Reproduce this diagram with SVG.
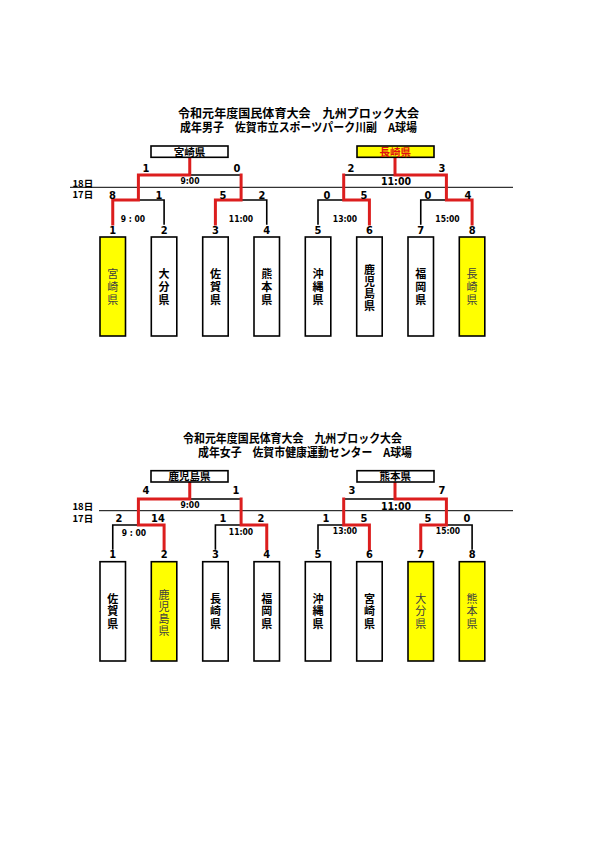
<svg xmlns="http://www.w3.org/2000/svg" width="595" height="842" viewBox="0 0 595 842">
<style>
.b{stroke:#000;stroke-width:1.6;fill:none;stroke-linecap:square}
.r{stroke:#dc1e1e;stroke-width:3;fill:none;stroke-linecap:square;stroke-linejoin:miter}
.d{stroke:#000;stroke-width:1;fill:none}
.box{fill:#fff;stroke:#000;stroke-width:1.6}
.y{fill:#ffff00}
.jp{font-family:"Noto Sans CJK JP","Noto Sans CJK SC",sans-serif;font-weight:bold;fill:#000}
.t{font-size:12px}
.bl{font-size:10.5px;text-anchor:middle}
.v{font-size:11px;writing-mode:vertical-rl;text-anchor:middle}
.v3{letter-spacing:2px}
.v3b{letter-spacing:1.5px}
.v4{letter-spacing:1px}
.tw{font-weight:normal;fill:#404040}
.n{font-family:"DejaVu Sans Condensed","Liberation Sans",sans-serif;font-weight:bold;font-size:11px;text-anchor:middle;fill:#000}
.s{font-family:"DejaVu Sans Condensed","Liberation Sans",sans-serif;font-weight:bold;font-size:8.5px;text-anchor:middle;fill:#000}
.s2{font-family:"DejaVu Sans Condensed","Liberation Sans",sans-serif;font-weight:bold;font-size:10.5px;text-anchor:middle;fill:#000}
.dt{font-family:"Noto Sans CJK JP",sans-serif;font-weight:bold;font-size:9.5px;fill:#000}
</style>
<rect width="595" height="842" fill="#fff"/>

<!-- Titles -->
<g id="title-men">
<text class="jp t" x="178" y="118" textLength="241" lengthAdjust="spacingAndGlyphs">令和元年度国民体育大会　九州ブロック大会</text>
<text class="jp t" x="180" y="131.5" textLength="237" lengthAdjust="spacingAndGlyphs">成年男子　佐賀市立スポーツパーク川副　A球場</text>
</g>
<g id="title-women">
<text class="jp t" x="183" y="443" textLength="219" lengthAdjust="spacingAndGlyphs">令和元年度国民体育大会　九州ブロック大会</text>
<text class="jp t" x="198" y="456.5" textLength="214" lengthAdjust="spacingAndGlyphs">成年女子　佐賀市健康運動センター　A球場</text>
</g>

<!-- Date lines -->
<g id="dates">
<line class="d" x1="70" y1="187.3" x2="513" y2="187.3"/>
<text class="dt" x="72.5" y="186.5">18日</text>
<text class="dt" x="72.5" y="197.5">17日</text>
<line class="d" x1="99" y1="510.7" x2="513" y2="510.7"/>
<text class="dt" x="72.5" y="510">18日</text>
<text class="dt" x="72.5" y="521.5">17日</text>
</g>

<!-- Connectors -->
<g id="connectors">
<path class="b" d="M138.4,200H164.1V224 M189.75,175H241.1 M241.1,200H266.75V224"/>
<path class="b" d="M318,224V200H343.7 M343.7,175H395 M420.75,224V200H446.4"/>
<path class="b" d="M112.75,549V525H138.4 M189.75,499H241.1 M215.4,549V525H241.1"/>
<path class="b" d="M318,549V525H343.7 M343.7,499H395 M446.4,525H472.1V549"/>
<path class="r" d="M112.75,224V200H138.4V175H189.75V157.3 M215.4,224V200H241.1V175"/>
<path class="r" d="M369.4,224V200H343.7V175 M395,157.3V175H446.4V200H472.1V224"/>
<path class="r" d="M164.1,549V525H138.4V499H189.75V482.3 M241.1,499V525H266.75V549"/>
<path class="r" d="M369.4,549V525H343.7V499 M395,482.3V499H446.4V525H420.75V549"/>
</g>

<!-- Champion boxes -->
<g id="champ-men-a"><rect class="box" x="151" y="146" width="77" height="11.3"/><text class="jp bl" x="189.5" y="155.6">宮崎県</text></g>
<g id="champ-men-b"><rect class="box y" x="357" y="146" width="77" height="11.3"/><text class="jp bl" x="395.3" y="155.6" style="fill:#e01010">長崎県</text></g>
<g id="champ-women-a"><rect class="box" x="151" y="470.7" width="77" height="11.3"/><text class="jp bl" x="189.5" y="480.3">鹿児島県</text></g>
<g id="champ-women-b"><rect class="box" x="357" y="470.7" width="77" height="11.3"/><text class="jp bl" x="395.3" y="480.3">熊本県</text></g>

<!-- Scores & times (men) -->
<g id="labels-men">
<text class="n" x="146" y="172">1</text><text class="n" x="237" y="172">0</text>
<text class="n" x="351" y="172">2</text><text class="n" x="442" y="172">3</text>
<text class="n" x="112.5" y="199">8</text><text class="n" x="159" y="199">1</text>
<text class="n" x="223" y="199">5</text><text class="n" x="262" y="199">2</text>
<text class="n" x="327" y="199">0</text><text class="n" x="364" y="199">5</text>
<text class="n" x="428" y="199">0</text><text class="n" x="468" y="199">4</text>
<text class="s" x="190" y="184">9:00</text>
<text class="s" x="133" y="222">9 : 00</text>
<text class="s" x="241" y="222">11:00</text>
<text class="s2" x="396" y="185">11:00</text>
<text class="s" x="345" y="221.5">13:00</text>
<text class="s" x="447.5" y="221.5">15:00</text>
<text class="n" x="112.75" y="234">1</text><text class="n" x="164.1" y="234">2</text>
<text class="n" x="215.4" y="234">3</text><text class="n" x="266.75" y="234">4</text>
<text class="n" x="318" y="234">5</text><text class="n" x="369.4" y="234">6</text>
<text class="n" x="420.75" y="234">7</text><text class="n" x="472.1" y="234">8</text>
</g>

<!-- Scores & times (women) -->
<g id="labels-women">
<text class="n" x="146" y="494">4</text><text class="n" x="236" y="494">1</text>
<text class="n" x="352" y="494">3</text><text class="n" x="442" y="494">7</text>
<text class="n" x="119" y="522">2</text><text class="n" x="158" y="522">14</text>
<text class="n" x="223" y="522">1</text><text class="n" x="261" y="522">2</text>
<text class="n" x="326" y="522">1</text><text class="n" x="364" y="522">5</text>
<text class="n" x="428" y="522">5</text><text class="n" x="467" y="522">0</text>
<text class="s" x="190" y="508">9:00</text>
<text class="s" x="134" y="536">9 : 00</text>
<text class="s" x="241" y="535">11:00</text>
<text class="s2" x="396" y="510">11:00</text>
<text class="s" x="345" y="534">13:00</text>
<text class="s" x="448" y="534">15:00</text>
<text class="n" x="112.75" y="558">1</text><text class="n" x="164.1" y="558">2</text>
<text class="n" x="215.4" y="558">3</text><text class="n" x="266.75" y="558">4</text>
<text class="n" x="318" y="558">5</text><text class="n" x="369.4" y="558">6</text>
<text class="n" x="420.75" y="558">7</text><text class="n" x="472.1" y="558">8</text>
</g>

<!-- Team boxes (men) -->
<g id="m1"><rect class="box y" x="100" y="237" width="25.5" height="99"/><text class="jp v v3 tw" x="112.75" y="287.5">宮崎県</text></g>
<g id="m2"><rect class="box" x="151.3" y="237" width="25.5" height="99"/><text class="jp v v3" x="164.1" y="287.5">大分県</text></g>
<g id="m3"><rect class="box" x="202.7" y="237" width="25.5" height="99"/><text class="jp v v3" x="215.4" y="287.5">佐賀県</text></g>
<g id="m4"><rect class="box" x="254" y="237" width="25.5" height="99"/><text class="jp v v3" x="266.75" y="287.5">熊本県</text></g>
<g id="m5"><rect class="box" x="305.3" y="237" width="25.5" height="99"/><text class="jp v v3" x="318" y="287.5">沖縄県</text></g>
<g id="m6"><rect class="box" x="356.7" y="237" width="25.5" height="99"/><text class="jp v v4" x="369.4" y="288">鹿児島県</text></g>
<g id="m7"><rect class="box" x="408" y="237" width="25.5" height="99"/><text class="jp v v3" x="420.75" y="287.5">福岡県</text></g>
<g id="m8"><rect class="box y" x="459.3" y="237" width="25.5" height="99"/><text class="jp v v3 tw" x="472.1" y="287.5">長崎県</text></g>

<!-- Team boxes (women) -->
<g id="w1"><rect class="box" x="100" y="561.7" width="25.5" height="99.3"/><text class="jp v v3b" x="112.75" y="611.75">佐賀県</text></g>
<g id="w2"><rect class="box y" x="151.3" y="561.7" width="25.5" height="99.3"/><text class="jp v v4 tw" x="164.1" y="613.5">鹿児島県</text></g>
<g id="w3"><rect class="box" x="202.7" y="561.7" width="25.5" height="99.3"/><text class="jp v v3b" x="215.4" y="611.75">長崎県</text></g>
<g id="w4"><rect class="box" x="254" y="561.7" width="25.5" height="99.3"/><text class="jp v v3b" x="266.75" y="611.75">福岡県</text></g>
<g id="w5"><rect class="box" x="305.3" y="561.7" width="25.5" height="99.3"/><text class="jp v v3b" x="318" y="611.75">沖縄県</text></g>
<g id="w6"><rect class="box" x="356.7" y="561.7" width="25.5" height="99.3"/><text class="jp v v3b" x="369.4" y="611.75">宮崎県</text></g>
<g id="w7"><rect class="box y" x="408" y="561.7" width="25.5" height="99.3"/><text class="jp v v3b tw" x="420.75" y="611.75">大分県</text></g>
<g id="w8"><rect class="box y" x="459.3" y="561.7" width="25.5" height="99.3"/><text class="jp v v3b tw" x="472.1" y="611.75">熊本県</text></g>
</svg>
